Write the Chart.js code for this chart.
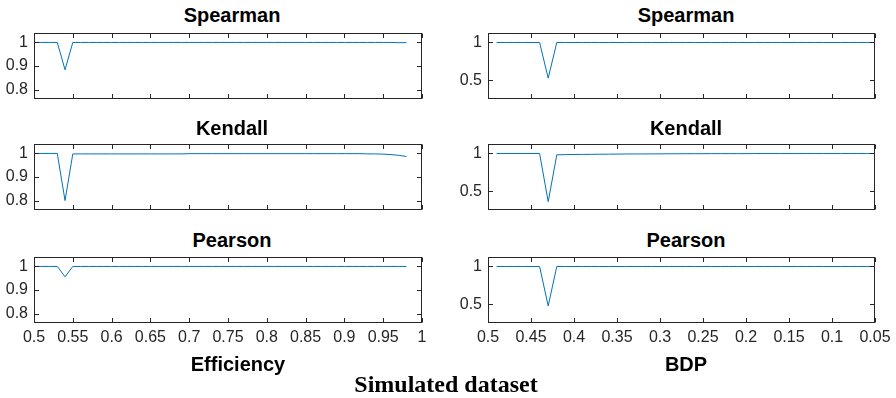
<!DOCTYPE html>
<html>
<head>
<meta charset="utf-8">
<script src="https://cdn.jsdelivr.net/npm/chart.js@4"></script>
<style>
  body { margin: 0; width: 896px; height: 398px; position: relative; background: #fff; overflow: hidden; }
  canvas, .txt { position: absolute; }
  .txt { font-family: 'Liberation Sans', Arial, sans-serif; font-weight: bold; font-size: 20px; line-height: 20px; color: #000; white-space: nowrap; transform: translateX(-50%); }
  .sup { font-family: 'Liberation Serif', 'Times New Roman', serif; font-size: 24px; line-height: 24px; }
</style>
</head>
<body>
<script>
// efficiency sweep (left column)
const effX = [
  0.50, 0.51, 0.52, 0.53, 0.54, 0.55, 0.56, 0.57, 0.58, 0.59,
  0.60, 0.61, 0.62, 0.63, 0.64, 0.65, 0.66, 0.67, 0.68, 0.69,
  0.70, 0.71, 0.72, 0.73, 0.74, 0.75, 0.76, 0.77, 0.78, 0.79,
  0.80, 0.81, 0.82, 0.83, 0.84, 0.85, 0.86, 0.87, 0.88, 0.89,
  0.90, 0.91, 0.92, 0.93, 0.94, 0.95, 0.96, 0.97, 0.98
];
const effSpearman = [
  1, 1, 1, 1, 0.884, 1, 1, 1, 1, 1,
  1, 1, 1, 1, 1, 1, 1, 1, 1, 1,
  1, 1, 1, 1, 1, 1, 1, 1, 1, 1,
  1, 1, 1, 1, 1, 1, 1, 1, 1, 1,
  1, 1, 1, 1, 1, 1, 1, 0.999, 0.999
];
const effKendall = [
  1, 1, 1, 1, 0.80, 0.998, 0.998, 0.998, 0.998, 0.998,
  0.998, 0.998, 0.998, 0.998, 0.998, 0.998, 0.998, 0.998, 0.998, 0.998,
  0.999, 0.999, 0.999, 0.999, 0.999, 0.999, 0.999, 0.999, 0.999, 0.999,
  0.999, 0.999, 0.999, 0.999, 0.999, 0.999, 0.999, 0.999, 0.999, 0.999,
  0.999, 0.999, 0.999, 0.998, 0.998, 0.997, 0.995, 0.992, 0.987
];
const effPearson = [
  1, 1, 1, 1, 0.956, 1, 1, 1, 1, 1,
  1, 1, 1, 1, 1, 1, 1, 1, 1, 1,
  1, 1, 1, 1, 1, 1, 1, 1, 1, 1,
  1, 1, 1, 1, 1, 1, 1, 1, 1, 1,
  1, 1, 1, 1, 1, 1, 1, 1, 1
];

// breakdown point sweep (right column)
const bdpX = [
  0.49, 0.48, 0.47, 0.46, 0.45, 0.44, 0.43, 0.42, 0.41, 0.40,
  0.39, 0.38, 0.37, 0.36, 0.35, 0.34, 0.33, 0.32, 0.31, 0.30,
  0.29, 0.28, 0.27, 0.26, 0.25, 0.24, 0.23, 0.22, 0.21, 0.20,
  0.19, 0.18, 0.17, 0.16, 0.15, 0.14, 0.13, 0.12, 0.11, 0.10,
  0.09, 0.08, 0.07, 0.06, 0.05
];
const bdpSpearman = [
  1, 1, 1, 1, 1, 1, 0.53, 1, 1, 1,
  1, 1, 1, 1, 1, 1, 1, 1, 1, 1,
  1, 1, 1, 1, 1, 1, 1, 1, 1, 1,
  1, 1, 1, 1, 1, 1, 1, 1, 1, 1,
  1, 1, 1, 1, 1
];
const bdpKendall = [
  1, 1, 1, 1, 1, 1, 0.365, 0.982, 0.985, 0.987,
  0.988, 0.989, 0.99, 0.991, 0.992, 0.993, 0.994, 0.994, 0.995, 0.995,
  0.996, 0.996, 0.997, 0.997, 0.997, 0.998, 0.998, 0.998, 0.998, 0.998,
  0.999, 0.999, 0.999, 0.999, 0.999, 0.999, 0.999, 0.999, 0.999, 0.999,
  0.999, 0.999, 0.999, 0.999, 0.999
];
const bdpPearson = [
  1, 1, 1, 1, 1, 1, 0.48, 1, 1, 1,
  1, 1, 1, 1, 1, 1, 1, 1, 1, 1,
  1, 1, 1, 1, 1, 1, 1, 1, 1, 1,
  1, 1, 1, 1, 1, 1, 1, 1, 1, 1,
  1, 1, 1, 1, 1
];

const effTicks = [0.5, 0.55, 0.6, 0.65, 0.7, 0.75, 0.8, 0.85, 0.9, 0.95, 1];
const bdpTicks = [0.5, 0.45, 0.4, 0.35, 0.3, 0.25, 0.2, 0.15, 0.1, 0.05];
const effYTicks = [0.8, 0.9, 1];
const bdpYTicks = [0.5, 1];
const titles = ['Spearman', 'Kendall', 'Pearson'];
const xLabels = ['Efficiency', 'BDP'];
const supTitle = 'Simulated dataset';

const lineColor = '#0072BD';
const axisColor = '#262626';
const rowTops = [33, 144, 257];
const boxH = 66;

// matlab style box with inward ticks on all sides
const boxTicks = {
  id: 'boxTicks',
  afterDraw(chart) {
    const ctx = chart.ctx;
    const a = chart.chartArea;
    const sx = chart.scales.x, sy = chart.scales.y;
    const L = Math.round(a.left) + 0.5, R = Math.round(a.right) - 0.5;
    const T = Math.round(a.top) + 0.5, B = Math.round(a.bottom) - 0.5;
    ctx.save();
    ctx.strokeStyle = axisColor;
    ctx.lineWidth = 1;
    ctx.beginPath();
    sx.ticks.forEach(t => {
      const px = Math.round(sx.getPixelForValue(t.value)) + 0.5;
      ctx.moveTo(px, B); ctx.lineTo(px, B - 4.5);
      ctx.moveTo(px, T); ctx.lineTo(px, T + 4.5);
    });
    sy.ticks.forEach(t => {
      const py = Math.round(sy.getPixelForValue(t.value)) + 0.5;
      ctx.moveTo(L, py); ctx.lineTo(L + 4.5, py);
      ctx.moveTo(R, py); ctx.lineTo(R - 4.5, py);
    });
    ctx.stroke();
    ctx.strokeRect(L, T, R - L, B - T);
    ctx.restore();
  }
};

const fmt = v => String(Number(Number(v).toFixed(2)));

function addText(text, cx, top, cls) {
  const d = document.createElement('div');
  d.className = cls;
  d.textContent = text;
  d.style.left = cx + 'px';
  d.style.top = top + 'px';
  document.body.appendChild(d);
}

function makePanel(col, row, xs, ys) {
  const isEff = col === 0;
  const bottomRow = row === 2;
  const canvasLeft = isEff ? 0 : 446;
  const canvasW = isEff ? 440 : 450;
  const yW = isEff ? 34 : 42;
  const padR = isEff ? 18 : 21;
  const xH = bottomRow ? 30 : 0;
  const canvasTop = rowTops[row] - 6;
  const canvasH = 6 + boxH + xH + 6;

  const cv = document.createElement('canvas');
  cv.style.left = canvasLeft + 'px';
  cv.style.top = canvasTop + 'px';
  cv.style.width = canvasW + 'px';
  cv.style.height = canvasH + 'px';
  cv.width = canvasW;
  cv.height = canvasH;
  document.body.appendChild(cv);

  const xt = isEff ? effTicks : bdpTicks;
  const yt = isEff ? effYTicks : bdpYTicks;

  new Chart(cv, {
    type: 'line',
    data: {
      datasets: [{
        data: xs.map((x, i) => ({ x: x, y: ys[i] })),
        borderColor: lineColor,
        borderWidth: 1,
        pointRadius: 0,
        tension: 0
      }]
    },
    options: {
      responsive: false,
      animation: false,
      events: [],
      layout: { autoPadding: false, padding: { top: 6, bottom: 6, left: 0, right: padR } },
      plugins: { legend: { display: false }, tooltip: { enabled: false } },
      scales: {
        x: {
          type: 'linear',
          min: isEff ? 0.5 : 0.05,
          max: isEff ? 1 : 0.5,
          reverse: !isEff,
          grid: { display: false, drawTicks: false },
          border: { display: false },
          afterBuildTicks: s => { s.ticks = xt.map(v => ({ value: v })); },
          afterFit: s => { s.height = xH; s.paddingLeft = 0; s.paddingRight = 0; },
          ticks: {
            display: bottomRow,
            autoSkip: false,
            maxRotation: 0,
            padding: 5,
            color: axisColor,
            font: { family: 'Liberation Sans', size: 16 },
            callback: fmt
          }
        },
        y: {
          min: isEff ? 0.76 : 0.255,
          max: isEff ? 1.04 : 1.125,
          grid: { display: false, drawTicks: false },
          border: { display: false },
          afterBuildTicks: s => { s.ticks = yt.map(v => ({ value: v })); },
          afterFit: s => { s.width = yW; s.paddingTop = 0; s.paddingBottom = 0; },
          ticks: {
            padding: 6,
            color: axisColor,
            font: { family: 'Liberation Sans', size: 16 },
            callback: fmt
          }
        }
      }
    },
    plugins: [boxTicks]
  });
}

const series = [
  [effSpearman, bdpSpearman],
  [effKendall, bdpKendall],
  [effPearson, bdpPearson]
];
const titleTops = [4.5, 118, 229.5];
for (let r = 0; r < 3; r++) {
  makePanel(0, r, effX, series[r][0]);
  makePanel(1, r, bdpX, series[r][1]);
  addText(titles[r], 232, titleTops[r], 'txt');
  addText(titles[r], 686, titleTops[r], 'txt');
}
addText(xLabels[0], 238, 354, 'txt');
addText(xLabels[1], 686, 354, 'txt');
addText(supTitle, 446, 372, 'txt sup');
</script>
</body>
</html>
